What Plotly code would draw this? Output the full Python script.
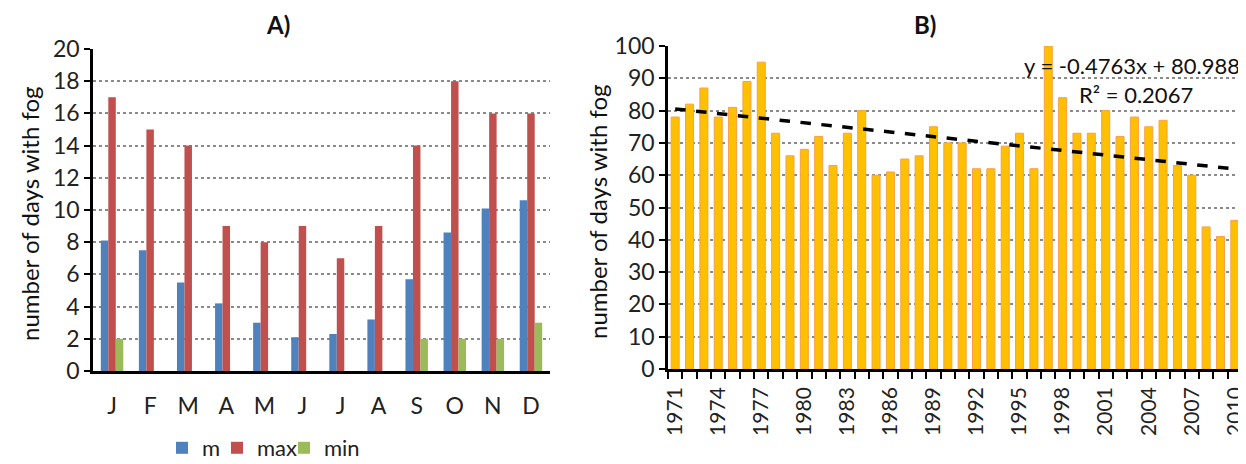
import plotly.graph_objects as go

# ---------------- data ----------------
months = ["J", "F", "M", "A", "M ", "J ", "J  ", "A ", "S", "O", "N", "D"]
month_labels = ["J", "F", "M", "A", "M", "J", "J", "A", "S", "O", "N", "D"]
fog_mean = [8.1, 7.5, 5.5, 4.2, 3.0, 2.1, 2.3, 3.2, 5.7, 8.6, 10.1, 10.6]
fog_max = [17, 15, 14, 9, 8, 9, 7, 9, 14, 18, 16, 16]
fog_min = [2, 0, 0, 0, 0, 0, 0, 0, 2, 2, 2, 3]

years = list(range(1971, 2011))
fog_annual = [78, 82, 87, 78, 81, 89, 95, 73, 66, 68,
              72, 63, 73, 80, 60, 61, 65, 66, 75, 70,
              70, 62, 62, 69, 73, 62, 100, 84, 73, 73,
              80, 72, 78, 75, 77, 63, 60, 44, 41, 46]
year_ticks = list(range(1971, 2011, 3))

trend_slope = -0.4763
trend_intercept = 80.988
trend_label = "y = -0.4763x + 80.988"
r2_label = "R² = 0.2067"

FONT = "Lato, Carlito, Calibri, sans-serif"

fig = go.Figure()

# page has an 8px body margin: figure sized to fill the rest of the window
OFF = 8
W, H = 1246 - OFF, 464 - OFF
def px_x(p):
    return (p - OFF) / W
def px_y(p):
    return (H - (p - OFF)) / H

# ---------------- panel A ----------------
series_a = [("m", fog_mean, "#4F81BD", "legend", 162),
            ("max", fog_max, "#C0504D", "legend2", 217),
            ("min", fog_min, "#9BBB59", "legend3", 284)]
for name, vals, col, leg, _ in series_a:
    fig.add_trace(go.Bar(x=months, y=vals, name=name, marker_color=col,
                         marker_line_width=0, xaxis="x", yaxis="y", legend=leg))

# ---------------- panel B ----------------
fig.add_trace(go.Bar(x=years, y=fog_annual, name="annual", showlegend=False,
                     width=0.56,
                     marker=dict(color="#FFC000", line=dict(color="#F7A048", width=1)),
                     xaxis="x2", yaxis="y2"))
trend_y = [trend_slope * (i + 1) + trend_intercept for i in range(len(years))]
fig.add_trace(go.Scatter(x=years, y=trend_y, mode="lines", showlegend=False,
                         line=dict(color="black", width=3.5, dash="dash"),
                         xaxis="x2", yaxis="y2"))

grid = dict(showgrid=True, gridcolor="#8a8a8a", griddash="dot", gridwidth=1.5)
yax = dict(showline=True, linecolor="black", linewidth=2.5, ticks="outside",
           ticklen=6, tickwidth=2, tickcolor="black", tickfont=dict(size=23),
           zeroline=False, automargin=False, **grid)

def note(text, x, y, size=23, angle=0, xanchor="center"):
    return dict(text=text, x=px_x(x), y=px_y(y), xref="paper", yref="paper",
                xanchor=xanchor, yanchor="middle", textangle=angle,
                showarrow=False, font=dict(size=size, color="#111"))

legends = {}
for _, _, _, leg, lx in series_a:
    legends[leg] = dict(orientation="h", x=px_x(lx), xanchor="left",
                        y=px_y(448), yanchor="middle", font=dict(size=22),
                        bgcolor="rgba(0,0,0,0)")

fig.update_layout(
    template="none",
    width=W, height=H,
    margin=dict(l=0, r=0, t=0, b=0, pad=0, autoexpand=False),
    plot_bgcolor="white", paper_bgcolor="white",
    font=dict(family=FONT, size=20, color="#222"),
    barmode="group", bargap=0.41, bargroupgap=0,
    xaxis=dict(domain=[px_x(93), px_x(550)], anchor="y",
               tickvals=months, ticktext=month_labels,
               showline=True, linecolor="black", linewidth=2.5,
               ticks="", ticklabelstandoff=13, tickfont=dict(size=23),
               showgrid=False, zeroline=False, automargin=False),
    yaxis=dict(domain=[px_y(371), px_y(49)], anchor="x",
               range=[0, 20], dtick=2, **yax),
    xaxis2=dict(domain=[px_x(668), px_x(1242)], anchor="y2",
                range=[1970.5, 2010.5], tickvals=year_ticks,
                ticktext=[str(y) for y in year_ticks], tickangle=-90,
                ticks="", showline=True, linecolor="black", linewidth=2.5,
                tickfont=dict(size=21), showgrid=False, zeroline=False,
                automargin=False, ticklabelstandoff=7,
                ticklabeloverflow="allow",
                minor=dict(ticks="outside", dtick=1, tick0=1970.5, ticklen=7,
                           tickwidth=2, tickcolor="black", showgrid=False)),
    yaxis2=dict(domain=[px_y(369), px_y(46)], anchor="x2",
                range=[0, 100], dtick=10, **yax),
    annotations=[
        note("<b>A)</b>", 278, 25, size=24),
        note("<b>B)</b>", 925, 25, size=24),
        note("number of days with fog", 30, 214, size=24, angle=-90),
        note("number of days with fog", 598, 212, size=24, angle=-90),
        note(trend_label, 1242, 65, size=22, xanchor="right"),
        note(r2_label, 1136, 95, size=22),
    ],
    **legends,
)

fig.write_html("out.html")
